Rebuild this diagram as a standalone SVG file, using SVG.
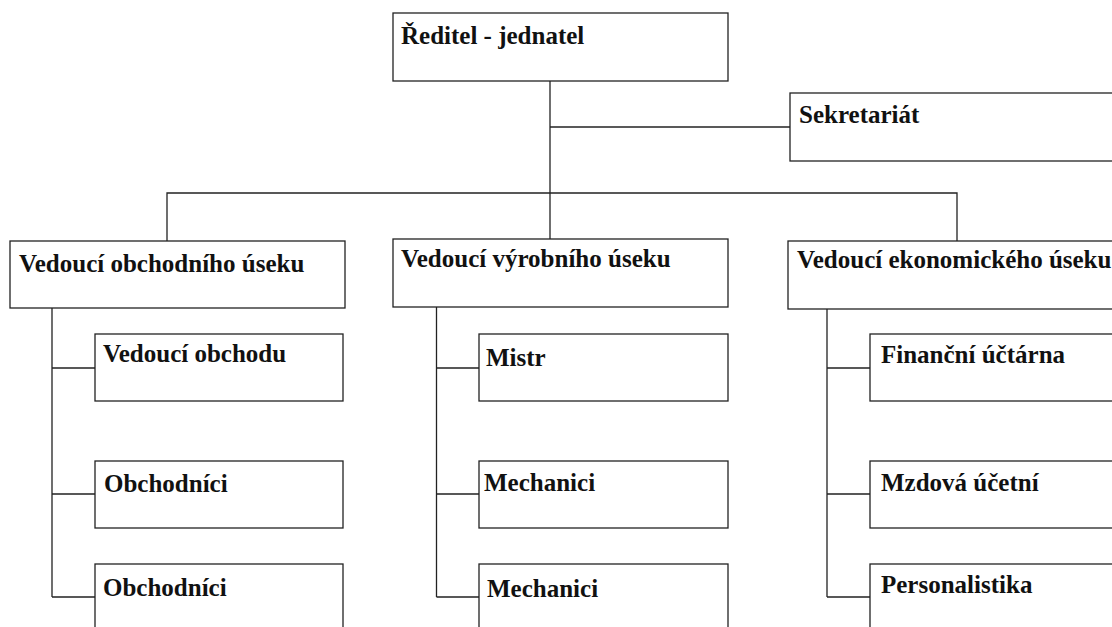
<svg xmlns="http://www.w3.org/2000/svg" width="1112" height="627" viewBox="0 0 1112 627">
<style>
.box{fill:#fff;stroke:#222;stroke-width:1.3}
.ln{fill:none;stroke:#222;stroke-width:1.3}
text{font-family:"Liberation Serif","Times New Roman",serif;font-weight:bold;font-size:25px;fill:#111}
</style>
<rect x="0" y="0" width="1112" height="627" fill="#fff"/>
<g id="connectors" class="ln">
<path d="M550,81 V239"/>
<path d="M550,127 H790"/>
<path d="M167,241 V193 H957 V241"/>
<path d="M52,308 V597 M52,368 H95 M52,494 H95 M52,597 H95"/>
<path d="M436.5,307 V597 M436.5,368 H479 M436.5,494 H479 M436.5,597 H479"/>
<path d="M827,309 V597 M827,368 H870 M827,494 H870 M827,597 H870"/>
</g>
<g id="reditel"><rect class="box" x="393" y="13" width="335" height="68"/><text x="401" y="44">Ředitel - jednatel</text></g>
<g id="sekretariat"><rect class="box" x="790" y="93" width="340" height="68"/><text x="799" y="123">Sekretariát</text></g>
<g id="obchodni"><rect class="box" x="10" y="241" width="335" height="67"/><text x="19" y="272">Vedoucí obchodního úseku</text></g>
<g id="vyrobni"><rect class="box" x="393" y="239" width="335" height="68"/><text x="401" y="267">Vedoucí výrobního úseku</text></g>
<g id="ekonomicky"><rect class="box" x="788" y="241" width="340" height="68"/><text x="797" y="268">Vedoucí ekonomického úseku</text></g>
<g id="vedouci-obchodu"><rect class="box" x="95" y="334" width="248" height="67"/><text x="103" y="362">Vedoucí obchodu</text></g>
<g id="obchodnici1"><rect class="box" x="95" y="461" width="248" height="67"/><text x="104" y="492">Obchodníci</text></g>
<g id="obchodnici2"><rect class="box" x="95" y="564" width="248" height="67"/><text x="103" y="596">Obchodníci</text></g>
<g id="mistr"><rect class="box" x="479" y="334" width="249" height="67"/><text x="486" y="366">Mistr</text></g>
<g id="mechanici1"><rect class="box" x="479" y="461" width="249" height="67"/><text x="484" y="491">Mechanici</text></g>
<g id="mechanici2"><rect class="box" x="479" y="564" width="249" height="67"/><text x="487" y="597">Mechanici</text></g>
<g id="financni"><rect class="box" x="870" y="334" width="250" height="67"/><text x="881" y="363">Finanční účtárna</text></g>
<g id="mzdova"><rect class="box" x="870" y="461" width="250" height="67"/><text x="881" y="491">Mzdová účetní</text></g>
<g id="personalistika"><rect class="box" x="870" y="564" width="250" height="67"/><text x="881" y="593">Personalistika</text></g>
</svg>
